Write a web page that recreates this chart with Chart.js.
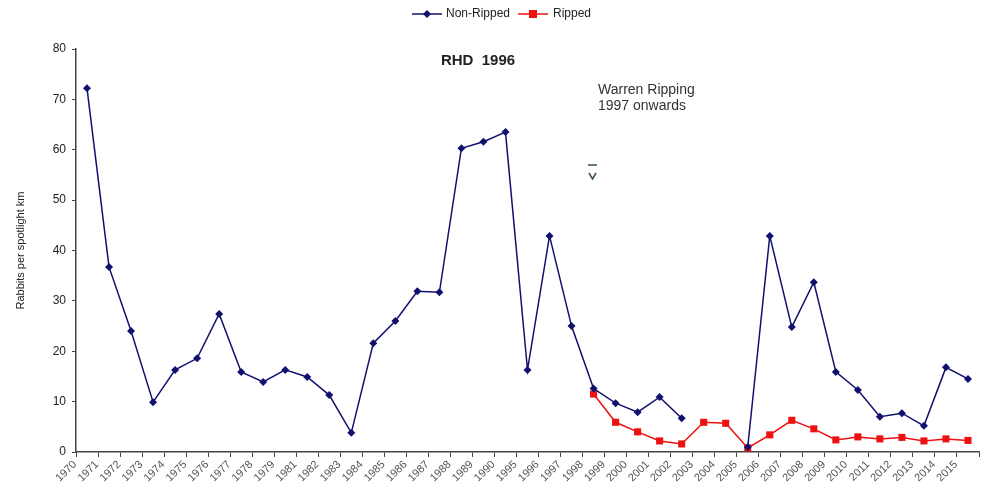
<!DOCTYPE html>
<html><head><meta charset="utf-8">
<script src="https://cdn.jsdelivr.net/npm/chart.js@4/dist/chart.umd.min.js"></script>
<style>html,body{margin:0;padding:0;background:#fff;}#wrap{width:984px;height:492px;}</style>
</head><body><div id="wrap"><canvas id="c" width="984" height="492"></canvas></div>
<script>
const years = ['1970','1971','1972','1973','1974','1975','1976','1977','1978','1979',
  '1981','1982','1983','1984','1985','1986','1987','1988','1989','1990',
  '1995','1996','1997','1998','1999','2000','2001','2002','2003','2004','2005',
  '2006','2007','2008','2009','2010','2011','2012','2013','2014','2015'];
const nonRipped = [72.2,36.7,24.0,9.9,16.3,18.6,27.4,15.9,13.9,16.3,
  14.9,11.3,3.8,21.6,26.0,31.9,31.7,60.3,61.6,63.5,
  16.3,42.9,25.0,12.6,9.7,7.9,10.9,6.7,null,null,1.0,
  42.9,24.8,33.7,15.9,12.3,7.0,7.7,5.2,16.8,14.5];
const ripped = [null,null,null,null,null,null,null,null,null,null,
  null,null,null,null,null,null,null,null,null,null,
  null,null,null,11.5,5.9,4.0,2.2,1.6,5.9,5.7,0.8,
  3.4,6.3,4.6,2.4,3.0,2.6,2.9,2.2,2.6,2.3];
const seriesNames = ['Non-Ripped','Ripped'];
const yAxisTitle = 'Rabbits per spotlight km';
const titleText = 'RHD  1996';
const noteLines = ['Warren Ripping','1997 onwards'];
const NAVY = '#10106e', RED = '#ee1111';
const FONT = "'Liberation Sans', Arial, sans-serif";

const overlay = {
  id:'overlay',
  afterDraw(chart){
    const ctx = chart.ctx;
    ctx.save();
    // legend
    ctx.lineWidth = 1.5;
    ctx.strokeStyle = NAVY;
    ctx.beginPath(); ctx.moveTo(412,14); ctx.lineTo(442,14); ctx.stroke();
    ctx.fillStyle = NAVY;
    ctx.beginPath(); ctx.moveTo(427,10); ctx.lineTo(431,14); ctx.lineTo(427,18); ctx.lineTo(423,14); ctx.closePath(); ctx.fill();
    ctx.strokeStyle = RED;
    ctx.beginPath(); ctx.moveTo(518,14); ctx.lineTo(548,14); ctx.stroke();
    ctx.fillStyle = RED; ctx.fillRect(529,10,8,8);
    ctx.fillStyle = '#222'; ctx.font = '12px ' + FONT; ctx.textBaseline='middle'; ctx.textAlign='left';
    ctx.fillText(seriesNames[0], 446, 14);
    ctx.fillText(seriesNames[1], 553, 14);
    // title
    ctx.font = 'bold 15px ' + FONT; ctx.textAlign='center';
    ctx.fillText(titleText, 478, 61);
    ctx.font = '14px ' + FONT; ctx.textAlign='left'; ctx.fillStyle='#333';
    ctx.fillText(noteLines[0], 598, 90);
    ctx.fillText(noteLines[1], 598, 106);
    // small arrow mark
    ctx.strokeStyle = '#2f4f5f'; ctx.lineWidth = 1.5;
    ctx.beginPath(); ctx.moveTo(588,165); ctx.lineTo(597,165); ctx.stroke();
    ctx.beginPath(); ctx.moveTo(589,173); ctx.lineTo(592.5,179); ctx.lineTo(596,173); ctx.stroke();
    ctx.restore();
  }
};

new Chart(document.getElementById('c'), {
  type:'line',
  data:{
    labels: years,
    datasets:[
      {label:seriesNames[0], data:nonRipped, borderColor:NAVY, backgroundColor:NAVY,
       borderWidth:1.5, pointStyle:'rectRot', pointRadius:4, pointBorderWidth:0, tension:0, spanGaps:false},
      {label:seriesNames[1], data:ripped, borderColor:RED, backgroundColor:RED,
       borderWidth:1.5, pointStyle:'rect', pointRadius:5, pointBorderWidth:0, tension:0, spanGaps:false}
    ]
  },
  options:{
    responsive:false, animation:false, devicePixelRatio:1,
    layout:{padding:{top:49,right:0,left:0,bottom:0}},
    plugins:{legend:{display:false}, tooltip:{enabled:false}},
    scales:{
      x:{
        offset:true,
        grid:{offset:true, drawOnChartArea:false, drawTicks:true, tickLength:5, color:'#444'},
        border:{color:'#444', width:1.5},
        ticks:{autoSkip:false, maxRotation:45, minRotation:45, labelOffset:-12, padding:1,
               color:'#555', font:{family:FONT, size:11}},
        afterFit(s){ s.height = 40; }
      },
      y:{
        min:0, max:80,
        grid:{drawOnChartArea:false, tickLength:4, color:'#444'},
        border:{color:'#444', width:1.5},
        ticks:{stepSize:10, padding:6, color:'#222', font:{family:FONT, size:12}},
        title:{display:true, text:yAxisTitle, color:'#222', font:{family:FONT, size:11}, padding:{top:14,bottom:4}},
        afterFit(s){ s.width = 76; }
      }
    }
  },
  plugins:[overlay]
});
</script></body></html>
